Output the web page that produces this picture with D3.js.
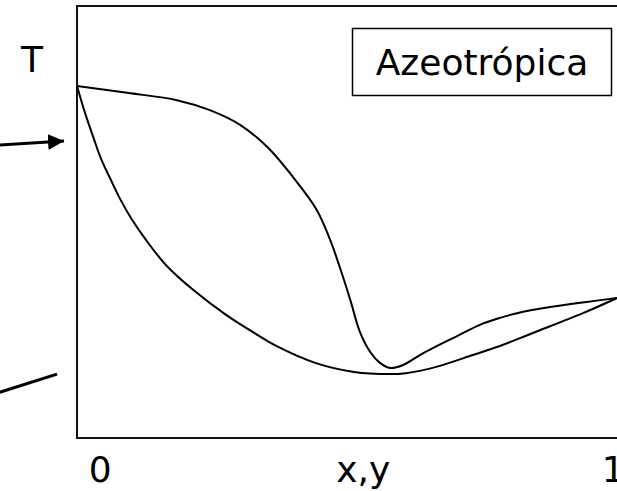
<!DOCTYPE html>
<html>
<head>
<meta charset="utf-8">
<script src="https://cdn.jsdelivr.net/npm/d3@7"></script>
<style>
  html, body { margin: 0; padding: 0; background: #fff; }
  svg { display: block; }
  text { font-family: "DejaVu Sans", Verdana, sans-serif; fill: #000; }
</style>
</head>
<body>
<svg id="chart" width="617" height="491"></svg>
<script>
// composition x (0..1) and temperature T (arbitrary units, 0..100)
const dewX   = [0, 0.093, 0.185, 0.246, 0.302, 0.352, 0.400, 0.444, 0.469, 0.487, 0.506, 0.524, 0.543, 0.561, 0.580, 0.604, 0.635, 0.659, 0.704, 0.746, 0.783, 0.815, 0.876, 0.944, 1];
const dewT   = [81.5, 79.9, 78.2, 75.9, 72.5, 67.4, 60.4, 52.8, 45.8, 39.4, 32.0, 24.5, 19.9, 17.4, 16.2, 16.9, 19.2, 20.8, 23.6, 26.2, 27.8, 28.9, 30.3, 31.5, 32.4];

const bubX   = [0, 0.015, 0.030, 0.044, 0.061, 0.080, 0.102, 0.128, 0.165, 0.215, 0.276, 0.326, 0.369, 0.441, 0.513, 0.580, 0.609, 0.637, 0.672, 0.733, 0.783, 0.844, 0.937, 1];
const bubT   = [81.5, 75.2, 69.7, 64.8, 60.2, 55.3, 50.5, 45.8, 40.0, 34.3, 28.5, 24.5, 21.3, 17.4, 15.3, 14.8, 15.0, 15.6, 16.7, 19.2, 21.3, 24.3, 28.9, 32.4];

const tickLabels = ['0', 'x,y', '1'];
const tickAt     = [0.043, 0.53, 0.993];

// pointers coming in from the left (outside the frame)
const arrowX = [-0.143, -0.024];
const arrowT = [67.8, 68.75];
const leadX  = [-0.143, -0.037];
const leadT  = [10.6, 14.8];

const legendText = 'Azeotrópica';
const axisLabelT = 'T';

const svg = d3.select('#chart');
const x = d3.scaleLinear().domain([0, 1]).range([77, 617]);
const y = d3.scaleLinear().domain([0, 100]).range([438, 6]);

// frame
svg.append('path')
    .attr('d', `M${x(1.05)},${y(100)} H${x(0)} V${y(0)} H${x(1.05)}`)
    .attr('fill', 'none')
    .attr('stroke', '#111')
    .attr('stroke-width', 2);

const line = d3.line()
    .x(d => x(d[0]))
    .y(d => y(d[1]))
    .curve(d3.curveCatmullRom.alpha(0.5));

svg.append('path')
    .datum(d3.zip(dewX, dewT))
    .attr('d', line)
    .attr('fill', 'none')
    .attr('stroke', '#000')
    .attr('stroke-width', 2);

svg.append('path')
    .datum(d3.zip(bubX, bubT))
    .attr('d', line)
    .attr('fill', 'none')
    .attr('stroke', '#000')
    .attr('stroke-width', 2);

// arrow
svg.append('defs').append('marker')
    .attr('id', 'head')
    .attr('viewBox', '0 0 10 10')
    .attr('refX', 10).attr('refY', 5)
    .attr('markerWidth', 16).attr('markerHeight', 16)
    .attr('markerUnits', 'userSpaceOnUse')
    .attr('orient', 'auto')
    .append('path')
    .attr('d', 'M0,0 L10,5 L0,10 Z')
    .attr('fill', '#000');

svg.append('line')
    .attr('x1', x(arrowX[0])).attr('y1', y(arrowT[0]))
    .attr('x2', x(arrowX[1])).attr('y2', y(arrowT[1]))
    .attr('stroke', '#000')
    .attr('stroke-width', 3)
    .attr('marker-end', 'url(#head)');

svg.append('line')
    .attr('x1', x(leadX[0])).attr('y1', y(leadT[0]))
    .attr('x2', x(leadX[1])).attr('y2', y(leadT[1]))
    .attr('stroke', '#000')
    .attr('stroke-width', 3);

// legend box
const lg = svg.append('g');
lg.append('rect')
    .attr('x', 352.5).attr('y', 28.5)
    .attr('width', 259).attr('height', 67)
    .attr('fill', '#fff')
    .attr('stroke', '#000')
    .attr('stroke-width', 1.5);
lg.append('text')
    .attr('x', 482).attr('y', 75)
    .attr('text-anchor', 'middle')
    .attr('font-size', 36)
    .text(legendText);

// axis texts
svg.append('text')
    .attr('x', 32).attr('y', 72)
    .attr('text-anchor', 'middle')
    .attr('font-size', 36)
    .text(axisLabelT);

svg.selectAll('.tk')
    .data(tickLabels)
    .join('text')
    .attr('class', 'tk')
    .attr('x', (d, i) => x(tickAt[i]))
    .attr('y', 482)
    .attr('text-anchor', 'middle')
    .attr('font-size', 36)
    .text(d => d);
</script>
</body>
</html>
